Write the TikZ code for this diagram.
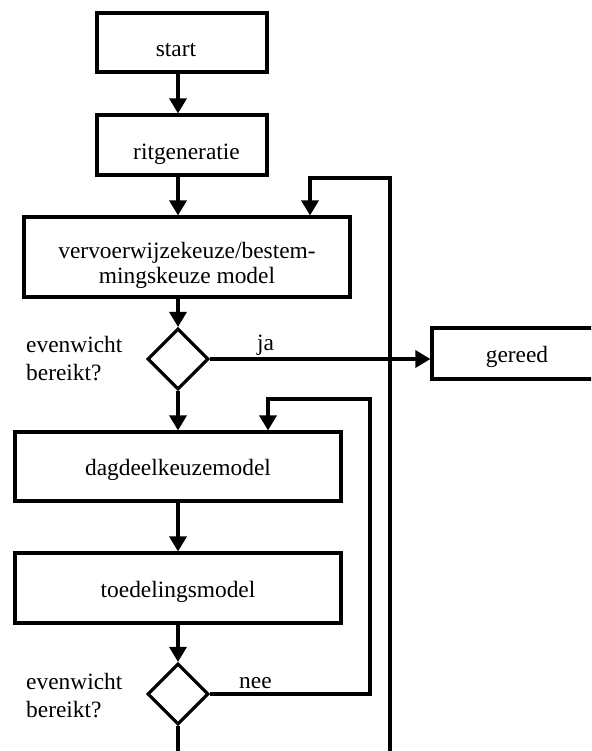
\documentclass[tikz,border=0pt]{standalone}
\usepackage{fontspec}
\setmainfont{Liberation Serif}
\usetikzlibrary{shapes.geometric,arrows.meta}
\tikzset{
  box/.style={draw, rectangle, line width=3.1pt, inner sep=0pt, align=center, text depth=0pt},
  dec/.style={draw, diamond, line width=3.1pt, inner sep=0pt, minimum width=61pt, minimum height=61pt, aspect=1},
  conn/.style={line width=3.1pt},
  arr/.style={conn, -{Triangle[length=15pt,width=17pt]}},
  lbl/.style={inner sep=0pt, anchor=base west},
}
\begin{document}
\begin{tikzpicture}[x=1pt,y=-1pt,font=\fontsize{23.4}{25}\selectfont]
\useasboundingbox (0,0) rectangle (591,751);
\begin{scope}
\clip (0,0) rectangle (591,751);
\node[box, minimum width=170pt, minimum height=59pt, text height=29pt] (start) at (182,42.5) {\hspace*{-12pt}start};
\node[box, minimum width=170pt, minimum height=60pt, text height=30pt] (rit) at (182,145) {\hspace*{9pt}ritgeneratie};
\node[box, minimum width=326pt, minimum height=80pt, text height=52pt] (verv) at (187,257) {vervoerwijzekeuze/bestem-\\mingskeuze model};
\node[dec] (d1) at (178,359) {};
\node[box, minimum width=170pt, minimum height=51pt, text height=17pt] (gereed) at (517,353.5) {gereed};
\node[box, minimum width=326pt, minimum height=69pt, text height=17pt] (dag) at (178,466.5) {dagdeelkeuzemodel};
\node[box, minimum width=326pt, minimum height=70pt, text height=18pt] (toe) at (178,588) {toedelingsmodel};
\node[dec] (d2) at (178,694) {};

\node[lbl] (e1) at (26,352.7) {evenwicht};
\node[lbl] (b1) at (26,380.7) {bereikt?};
\node[lbl] (e2) at (26,689) {evenwicht};
\node[lbl] (b2) at (26,717) {bereikt?};
\node[lbl] (ja) at (257,350) {ja};
\node[lbl] (nee) at (239,688) {nee};

\coordinate (bot) at (178,760);
\coordinate (bot2) at (390,760);
\coordinate (l1b) at (310,178);
\coordinate (l2) at (370,399);
\coordinate (l2b) at (268,399);

\draw[arr] (start.south -| d1) -- (rit.north -| d1);
\draw[arr] (rit.south -| d1) -- (verv.north -| d1);
\draw[arr] (verv.south -| d1) -- (d1.north);
\draw[arr] (d1.south) -- (dag.north -| d1);
\draw[arr] (dag.south -| d1) -- (toe.north -| d1);
\draw[arr] (toe.south -| d1) -- (d2.north);
\draw[conn] (d2.south) -- (bot);
\draw[arr] (d1.east) -- (d1.east -| gereed.west);
\draw[arr] (bot2) |- (l1b) -- (verv.north -| l1b);
\draw[arr] (d2.east) -| (l2) -- (l2b) -- (dag.north -| l2b);
\end{scope}
\end{tikzpicture}
\end{document}
